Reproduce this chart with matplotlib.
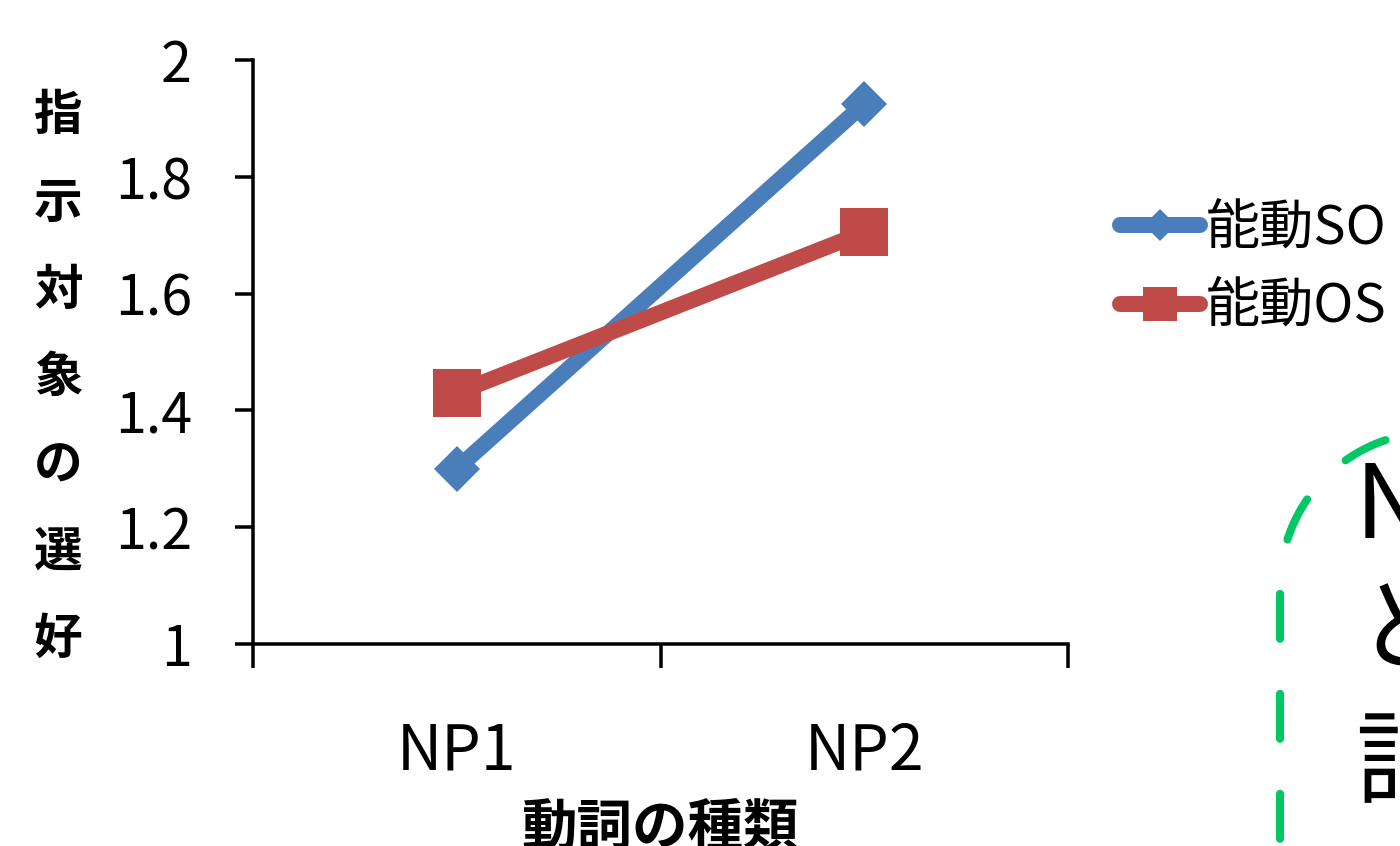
import matplotlib
matplotlib.use("Agg")
import matplotlib.pyplot as plt
from matplotlib.lines import Line2D
import numpy as np

plt.rcParams['font.family'] = ['Noto Sans CJK JP', 'DejaVu Sans']
plt.rcParams['lines.scale_dashes'] = False

# ---- data -------------------------------------------------------------
categories = ["NP1", "NP2"]
series_names = ["能動SO", "能動OS"]
so_values = [1.30, 1.925]
os_values = [1.43, 1.705]
y_ticks = [1, 1.2, 1.4, 1.6, 1.8, 2]
y_tick_labels = ["1", "1.2", "1.4", "1.6", "1.8", "2"]
x_label = "動詞の種類"
y_label = "指示対象の選好"
note_lines = ["N", "と", "詞"]

# ---- figure geometry (pixels) ------------------------------------------
W, H, DPI = 1400, 846, 100
PX = 72 / DPI  # points per pixel


def fx(x):
    return x / W


def fy(y):
    return 1 - y / H


BLUE = "#4A7EBB"
RED = "#BE4B48"
GREEN = "#00C864"

fig = plt.figure(figsize=(W / DPI, H / DPI), dpi=DPI)
fig.patch.set_facecolor("white")

ax = fig.add_axes([fx(253), fy(644), fx(1068) - fx(253), fy(60) - fy(644)])
xpos = np.arange(len(categories)) + 0.5
ax.plot(xpos, so_values, color=BLUE, lw=16 * PX, marker='D', ms=33 * PX,
        mew=0, solid_capstyle='butt', zorder=3, clip_on=False)
ax.plot(xpos, os_values, color=RED, lw=16 * PX, marker='s', ms=48 * PX,
        mew=0, solid_capstyle='butt', zorder=4, clip_on=False)

ax.set_xlim(0, len(categories))
ax.set_ylim(1, 2)
ax.set_yticks(y_ticks, y_tick_labels)
ax.set_xticks(np.arange(len(categories) + 1))
ax.set_xticklabels([])
ax.set_xticks(xpos, categories, minor=True)
ax.tick_params(axis='x', which='minor', length=0, labelsize=45, pad=54)
ax.tick_params(axis='x', which='major', length=24 * PX, width=3.5 * PX,
               direction='out', color='black')
ax.tick_params(axis='y', length=18 * PX, width=3.5 * PX, labelsize=40,
               pad=31, direction='out', color='black')
for s in ['top', 'right']:
    ax.spines[s].set_visible(False)
for s in ['left', 'bottom']:
    ax.spines[s].set_linewidth(3.5 * PX)
ax.set_facecolor('none')

# axis titles
fig.text(fx(660), fy(829), x_label, fontsize=40, fontweight='bold',
         ha='center', va='center')
for i, ch in enumerate(y_label):
    fig.text(fx(58), fy(116 + i * 87.3), ch, fontsize=35, fontweight='bold',
             ha='center', va='center')

# legend
legend_fs = 39
handles = [
    Line2D([], [], color=BLUE, lw=16 * PX, marker='D', ms=23 * PX, mew=0,
           solid_capstyle='round'),
    Line2D([], [], color=RED, lw=16 * PX, marker='s', ms=34 * PX, mew=0,
           solid_capstyle='round'),
]
fs_px = legend_fs / PX
fig.legend(handles, series_names, loc='center left',
           bbox_to_anchor=(fx(1120), fy(268)), frameon=False,
           fontsize=legend_fs, handlelength=80 / fs_px,
           handletextpad=6 / fs_px, labelspacing=0.43, borderpad=0,
           borderaxespad=0)

# overlay in pixel coordinates for the dashed callout and its text
ov = fig.add_axes([0, 0, 1, 1])
ov.set_xlim(0, W)
ov.set_ylim(H, 0)
ov.axis('off')

cx, cy, r = 1435, 587, 155
phi = np.linspace(0, np.pi / 2, 60)
arc_x = cx - r * np.sin(phi)
arc_y = cy - r * np.cos(phi)
path_x = np.concatenate([arc_x, [1280, 1280]])
path_y = np.concatenate([arc_y, [cy, 900]])
on, off, offset = 45 * PX, 55 * PX, 84 * PX
ov.plot(path_x, path_y, color=GREEN, lw=8 * PX,
        linestyle=(offset, (on, off)), dash_capstyle='round')

for ch, yc in zip(note_lines, [508, 634, 766]):
    ov.text(1355, yc, ch, fontsize=74, ha='left', va='center')

fig.savefig("out.png", dpi=DPI)
